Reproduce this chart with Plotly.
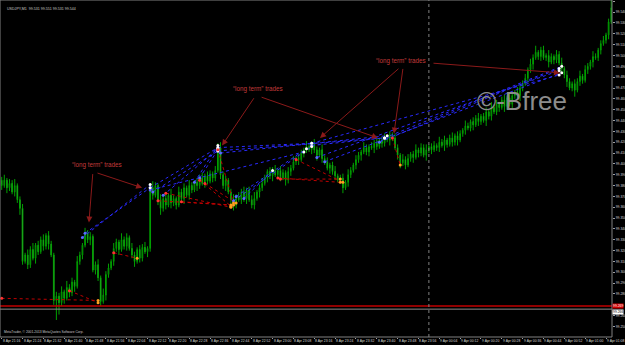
import plotly.graph_objects as go

# ---------------- data (USDJPY, M1) ----------------
first_open = 99.385
close = [
    99.380, 99.385, 99.378, 99.382, 99.374, 99.380, 99.367, 99.359, 99.310, 99.316,
    99.307, 99.321, 99.313, 99.325, 99.319, 99.330, 99.324, 99.334, 99.326, 99.316,
    99.274, 99.278, 99.272, 99.282, 99.276, 99.286, 99.281, 99.291, 99.287, 99.310,
    99.316, 99.325, 99.336, 99.330, 99.333, 99.302, 99.307, 99.295, 99.273, 99.279,
    99.298, 99.304, 99.310, 99.322, 99.328, 99.321, 99.330, 99.324, 99.332, 99.322,
    99.316, 99.310, 99.321, 99.313, 99.323, 99.319, 99.322, 99.378, 99.371, 99.380,
    99.367, 99.359, 99.368, 99.362, 99.371, 99.364, 99.368, 99.362, 99.374, 99.368,
    99.378, 99.371, 99.380, 99.376, 99.383, 99.380, 99.387, 99.382, 99.389, 99.384,
    99.391, 99.387, 99.394, 99.415, 99.390, 99.380, 99.385, 99.374, 99.367, 99.362,
    99.370, 99.367, 99.374, 99.368, 99.376, 99.367, 99.362, 99.368, 99.374, 99.378,
    99.382, 99.387, 99.393, 99.389, 99.394, 99.390, 99.394, 99.387, 99.392, 99.385,
    99.393, 99.396, 99.402, 99.405, 99.404, 99.410, 99.413, 99.416, 99.413, 99.419,
    99.413, 99.408, 99.413, 99.405, 99.402, 99.396, 99.399, 99.393, 99.389, 99.385,
    99.387, 99.378, 99.383, 99.390, 99.394, 99.399, 99.404, 99.408, 99.411, 99.415,
    99.411, 99.416, 99.415, 99.419, 99.416, 99.422, 99.419, 99.424, 99.422, 99.427,
    99.424, 99.415, 99.408, 99.401, 99.404, 99.399, 99.405, 99.409, 99.406, 99.413,
    99.410, 99.415, 99.408, 99.413, 99.416, 99.413, 99.417, 99.415, 99.420, 99.417,
    99.422, 99.418, 99.424, 99.420, 99.426, 99.422, 99.428, 99.431, 99.435, 99.433,
    99.439, 99.436, 99.442, 99.439, 99.444, 99.440, 99.448, 99.444, 99.452, 99.448,
    99.455, 99.452, 99.459, 99.453, 99.461, 99.455, 99.463, 99.466, 99.463, 99.470,
    99.474, 99.479, 99.487, 99.492, 99.498, 99.503, 99.499, 99.505, 99.498, 99.500,
    99.494, 99.499, 99.496, 99.501, 99.493, 99.488, 99.482, 99.476, 99.470, 99.474,
    99.468, 99.476, 99.481, 99.477, 99.487, 99.490, 99.494, 99.499, 99.498, 99.505,
    99.511, 99.514, 99.519, 99.531, 99.544,
]
# upper / lower shadow lengths, in thousandths of a yen
upper_shadow = [
    3, 5, 2, 4, 3, 6, 2, 3, 4, 2, 5, 3, 6, 2, 4, 3, 5, 2, 4, 3,
    2, 4, 3, 5, 2, 6, 3, 4, 2, 5, 3, 2, 5, 3, 4, 2, 3, 5, 2, 6,
    3, 4, 2, 5, 3, 2, 6, 3, 4, 2, 5, 3, 2, 4, 3, 5, 2, 4, 6, 3,
    2, 5, 3, 4, 2, 6, 3, 2, 5, 3, 4, 2, 5, 3, 2, 4, 3, 5, 2, 4,
    3, 2, 4, 4, 5, 3, 4, 2, 3, 5, 2, 4, 3, 5, 2, 3, 4, 6, 2, 3,
    5, 3, 2, 4, 3, 5, 2, 4, 3, 2, 4, 3, 5, 2, 4, 3, 2, 5, 3, 2,
    4, 3, 2, 5, 3, 4, 2, 3, 5, 2, 3, 4, 2, 5, 3, 2, 4, 3, 2, 5,
    3, 2, 4, 3, 5, 2, 3, 4, 2, 3, 2, 4, 3, 2, 5, 3, 4, 2, 3, 5,
    2, 4, 3, 5, 2, 3, 4, 2, 5, 3, 4, 2, 3, 5, 2, 4, 3, 2, 5, 3,
    2, 4, 3, 5, 2, 3, 4, 2, 5, 3, 4, 2, 3, 5, 2, 4, 3, 2, 5, 3,
    3, 4, 2, 5, 3, 6, 2, 3, 4, 2, 5, 3, 2, 4, 3, 5, 2, 4, 3, 2,
    4, 3, 5, 2, 4, 3, 2, 5, 3, 2, 3, 4, 2, 3, 7,
]
lower_shadow = [
    4, 2, 5, 3, 2, 4, 3, 6, 3, 2, 4, 3, 2, 5, 3, 2, 4, 3, 5, 2,
    4, 18, 11, 3, 5, 2, 4, 3, 5, 2, 3, 4, 2, 3, 5, 2, 4, 3, 4, 2,
    5, 3, 2, 4, 3, 5, 2, 3, 4, 2, 3, 5, 2, 4, 3, 2, 5, 3, 4, 2,
    5, 6, 3, 4, 2, 5, 3, 4, 2, 3, 5, 2, 4, 3, 2, 5, 3, 2, 4, 3,
    2, 4, 3, 2, 4, 3, 5, 2, 4, 5, 3, 2, 4, 3, 5, 2, 3, 4, 2, 5,
    3, 2, 4, 3, 5, 2, 4, 3, 2, 5, 3, 4, 2, 3, 5, 2, 4, 3, 2, 4,
    3, 5, 2, 4, 3, 2, 5, 3, 4, 2, 3, 5, 2, 4, 3, 2, 4, 3, 5, 2,
    3, 4, 2, 5, 3, 2, 4, 3, 2, 5, 3, 2, 4, 5, 3, 4, 2, 3, 5, 2,
    4, 3, 2, 5, 3, 4, 2, 3, 4, 2, 5, 3, 2, 4, 3, 5, 2, 3, 4, 2,
    3, 5, 2, 4, 3, 2, 5, 3, 4, 2, 3, 4, 2, 5, 3, 2, 4, 3, 2, 5,
    3, 2, 4, 3, 5, 2, 3, 4, 2, 3, 5, 2, 4, 3, 2, 4, 3, 5, 2, 3,
    6, 2, 4, 3, 2, 4, 3, 5, 2, 3, 4, 2, 3, 4, 2,
]

time_tick_bars = [0, 8, 16, 24, 32, 40, 48, 56, 64, 72, 80, 88, 96, 104, 112,
                  120, 128, 136, 144, 152, 160, 168, 176, 184, 192, 200, 208, 216, 224, 232]
time_tick_labels = [
    "8 Apr 21:16", "8 Apr 21:24", "8 Apr 21:32", "8 Apr 21:40", "8 Apr 21:48",
    "8 Apr 21:56", "8 Apr 22:04", "8 Apr 22:12", "8 Apr 22:20", "8 Apr 22:28",
    "8 Apr 22:36", "8 Apr 22:44", "8 Apr 22:52", "8 Apr 23:00", "8 Apr 23:08",
    "8 Apr 23:16", "8 Apr 23:24", "8 Apr 23:32", "8 Apr 23:40", "8 Apr 23:48",
    "8 Apr 23:56", "9 Apr 00:04", "9 Apr 00:12", "9 Apr 00:20", "9 Apr 00:28",
    "9 Apr 00:36", "9 Apr 00:44", "9 Apr 00:52", "9 Apr 01:00", "9 Apr 01:08",
]
price_ticks = [99.550, 99.540, 99.530, 99.520, 99.510, 99.500, 99.490, 99.480,
               99.470, 99.460, 99.450, 99.440, 99.430, 99.420, 99.410, 99.400,
               99.390, 99.380, 99.370, 99.360, 99.350, 99.340, 99.330, 99.320,
               99.310, 99.300, 99.290, 99.280, 99.260, 99.250]
price_tick_labels = ["%.3f" % v for v in price_ticks]

day_separator_bar = 164
red_level = 99.269
grey_level = 99.266

# trades
buy_open_t = [32, 31, 57, 58, 74, 76, 83, 84, 83, 89, 90, 119, 121, 124, 145, 147, 57, 62, 93, 119]
buy_open_p = [99.336, 99.332, 99.378, 99.374, 99.383, 99.387, 99.415, 99.410, 99.412, 99.366,
              99.370, 99.419, 99.406, 99.402, 99.420, 99.424, 99.376, 99.371, 99.368, 99.417]
buy_close_t = [57, 57, 83, 83, 83, 83, 119, 148, 147, 119, 117, 214, 214, 215, 214, 215, 116, 83, 104, 147]
buy_close_p = [99.378, 99.381, 99.415, 99.412, 99.417, 99.413, 99.419, 99.426, 99.424, 99.416,
               99.414, 99.482, 99.486, 99.484, 99.488, 99.490, 99.411, 99.414, 99.394, 99.424]

sell_open_t = [0, 26, 43, 69, 78, 63, 76, 83, 106, 113, 150, 107, 60]
sell_open_p = [99.276, 99.283, 99.318, 99.365, 99.382, 99.373, 99.385, 99.413, 99.387, 99.404,
               99.424, 99.386, 99.366]
sell_close_t = [37, 37, 52, 89, 90, 88, 88, 89, 130, 131, 153, 130, 88]
sell_close_p = [99.274, 99.272, 99.313, 99.362, 99.364, 99.360, 99.361, 99.364, 99.383, 99.383,
                99.399, 99.386, 99.362]

# "long term" trades notes: text position, arrows (tail -> head)
note_text = "\u201clong term\u201d trades"
note_pos = [(36.6, 99.399), (98.4, 99.469), (153.3, 99.495)]
arrows = [
    ((35.0, 99.392), (33.5, 99.346)),
    ((36.2, 99.392), (53.9, 99.378)),
    ((97.2, 99.462), (84.6, 99.417)),
    ((99.2, 99.462), (144.4, 99.424)),
    ((152.9, 99.489), (122.2, 99.424)),
    ((154.1, 99.489), (150.6, 99.428)),
    ((165.2, 99.493), (214.3, 99.484)),
]
watermark_pos = (199.8, 99.458)

# ---------------- build ----------------
bars = list(range(len(close)))
opens = [first_open] + close[:-1]
highs = [round(max(o, c) + u / 1000.0, 4) for o, c, u in zip(opens, close, upper_shadow)]
lows = [round(min(o, c) - d / 1000.0, 4) for o, c, d in zip(opens, close, lower_shadow)]

GREEN = "#00a000"
fig = go.Figure()

fig.add_trace(go.Candlestick(
    x=bars, open=opens, high=highs, low=lows, close=close,
    increasing=dict(line=dict(color=GREEN, width=1), fillcolor="black"),
    decreasing=dict(line=dict(color=GREEN, width=1), fillcolor="white"),
    whiskerwidth=0, hoverinfo="skip", showlegend=False,
))


def seg(ot, op, ct, cp):
    xs, ys = [], []
    for a, b, c, d in zip(ot, op, ct, cp):
        xs += [a, c, None]
        ys += [b, d, None]
    return xs, ys


sx, sy = seg(sell_open_t, sell_open_p, sell_close_t, sell_close_p)
fig.add_trace(go.Scatter(x=sx, y=sy, mode="lines",
                         line=dict(color="#c00000", width=1, dash="dot"),
                         hoverinfo="skip", showlegend=False))
bx, by = seg(buy_open_t, buy_open_p, buy_close_t, buy_close_p)
fig.add_trace(go.Scatter(x=bx, y=by, mode="lines",
                         line=dict(color="#2a2aff", width=1, dash="dot"),
                         hoverinfo="skip", showlegend=False))

fig.add_trace(go.Scatter(x=buy_open_t, y=buy_open_p, mode="markers",
                         marker=dict(color="#5a6cff", size=3), hoverinfo="skip", showlegend=False))
fig.add_trace(go.Scatter(x=buy_close_t, y=buy_close_p, mode="markers",
                         marker=dict(color="#ffffff", size=3), hoverinfo="skip", showlegend=False))
fig.add_trace(go.Scatter(x=sell_open_t, y=sell_open_p, mode="markers",
                         marker=dict(color="#ff3030", size=3), hoverinfo="skip", showlegend=False))
fig.add_trace(go.Scatter(x=sell_close_t, y=sell_close_p, mode="markers",
                         marker=dict(color="#ffa020", size=3), hoverinfo="skip", showlegend=False))

ann = []
for (tx, ty) in note_pos:
    ann.append(dict(x=tx, y=ty, text=note_text, showarrow=False,
                    font=dict(family="Liberation Sans", size=6.3, color="#c23a3a")))
for (tail, head) in arrows:
    ann.append(dict(x=head[0], y=head[1], ax=tail[0], ay=tail[1], axref="x", ayref="y",
                    text="", showarrow=True, arrowhead=2, arrowsize=1.2, arrowwidth=1,
                    arrowcolor="#8b1a1a", standoff=0, startstandoff=0))
ann.append(dict(x=watermark_pos[0], y=watermark_pos[1], text="\u00a9-Bfree", showarrow=False,
                font=dict(family="Liberation Sans", size=26, color="#8c8c8c")))
ann.append(dict(xref="paper", yref="paper", x=0.008, y=0.972, xanchor="left", yanchor="middle",
                text="USDJPY,M1  99.531 99.551 99.531 99.544", showarrow=False,
                font=dict(family="Liberation Sans", size=3.6, color="#c8c8c8")))
ann.append(dict(xref="paper", yref="paper", x=0.003, y=0.004, xanchor="left", yanchor="bottom",
                text="MetaTrader, \u00a9 2001-2013 MetaQuotes Software Corp.", showarrow=False,
                font=dict(family="Liberation Sans", size=3.3, color="#c8c8c8")))
ann.append(dict(xref="paper", x=1.0, y=red_level, xanchor="left", yanchor="middle",
                text="%.3f" % red_level, showarrow=False, bgcolor="#d00000", borderpad=0,
                font=dict(family="Liberation Sans", size=3.4, color="white")))
ann.append(dict(xref="paper", x=1.0, y=grey_level, xanchor="left", yanchor="middle", yshift=-3,
                text="%.3f" % grey_level, showarrow=False, bgcolor="white", borderpad=0,
                font=dict(family="Liberation Sans", size=3.4, color="black")))
# time-axis labels, drawn to the right of each tick as MetaTrader does
for tb, tl in zip(time_tick_bars, time_tick_labels):
    ann.append(dict(x=tb, yref="paper", y=0, xanchor="left", yanchor="top", yshift=-1,
                    text=tl, showarrow=False, borderpad=0,
                    font=dict(family="Liberation Sans", size=3.4, color="#d8d8d8")))

shapes = [
    dict(type="line", xref="paper", x0=0, x1=1, y0=red_level, y1=red_level,
         line=dict(color="#c00000", width=1.5)),
    dict(type="line", xref="paper", x0=0, x1=1, y0=grey_level, y1=grey_level,
         line=dict(color="#8c8c8c", width=1)),
    dict(type="line", yref="paper", y0=0, y1=1, x0=day_separator_bar, x1=day_separator_bar,
         line=dict(color="#808080", width=1, dash="dot")),
    dict(type="rect", xref="paper", yref="paper", x0=0, x1=1, y0=0, y1=1,
         line=dict(color="#808080", width=1)),
]

fig.update_layout(
    width=625, height=345,
    margin=dict(l=0, r=13, t=0, b=8, pad=0),
    paper_bgcolor="black", plot_bgcolor="black",
    showlegend=False, boxgap=0.6,
    annotations=ann, shapes=shapes,
    font=dict(family="Liberation Sans", color="#d0d0d0"),
    xaxis=dict(range=[-0.65, 234.3], rangeslider=dict(visible=False),
               tickmode="array", tickvals=time_tick_bars, showticklabels=False,
               ticks="outside", ticklen=1, tickcolor="#a0a0a0",
               showgrid=False, zeroline=False, showline=False, automargin=False, fixedrange=True),
    yaxis=dict(range=[99.2403, 99.5512], side="right",
               tickmode="array", tickvals=price_ticks, ticktext=price_tick_labels,
               ticks="outside", ticklen=2, tickcolor="#a0a0a0",
               tickfont=dict(size=3.4, color="#d8d8d8"),
               showgrid=False, zeroline=False, showline=False, automargin=False, fixedrange=True),
)

fig.write_html("out.html")
